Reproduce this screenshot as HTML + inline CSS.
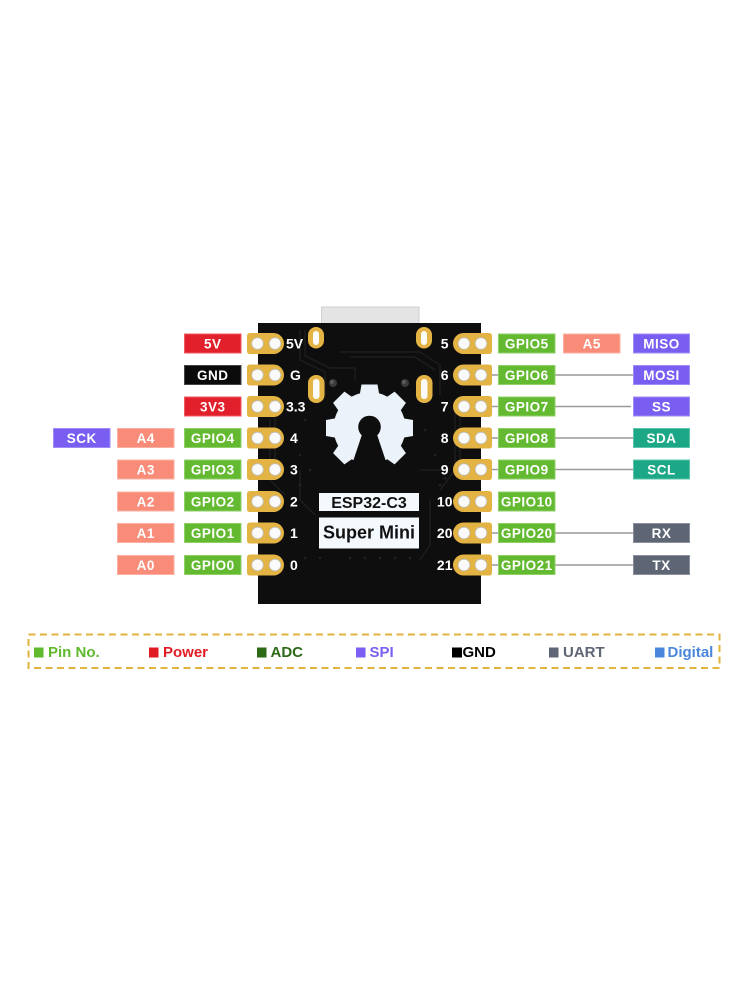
<!DOCTYPE html>
<html><head><meta charset="utf-8"><style>
html,body{margin:0;padding:0;background:#fff;}
svg{display:block;}
text{font-family:"Liberation Sans",sans-serif;font-weight:bold;}
</style></head><body>
<svg width="750" height="1000" viewBox="0 0 750 1000" xmlns="http://www.w3.org/2000/svg">
<rect width="750" height="1000" fill="#fff"/>
<!-- USB -->
<rect x="321.5" y="307" width="97.5" height="17" fill="#e4e4e4" stroke="#cfcfcf" stroke-width="1"/>
<!-- board -->
<rect x="258" y="323" width="223" height="281" fill="#0e0e0e"/>
<g stroke="#1d1d1d" stroke-width="1.5" fill="none">
<polyline points="300,330 300,360 325,372 325,395"/>
<polyline points="305,330 305,356 330,368 355,368 355,380"/>
<polyline points="340,352 420,352 440,365 440,395"/>
<polyline points="350,357 415,357 435,370"/>
<polyline points="270,420 270,480 285,495"/>
<polyline points="275,418 275,470"/>
<polyline points="455,410 455,470 440,490"/>
<polyline points="460,415 460,465"/>
<polyline points="300,470 300,500 315,515"/>
<polyline points="430,500 430,545 420,560"/>
<polyline points="420,470 450,470"/>
</g>
<g fill="#222">
<circle cx="300" cy="455" r="1.3"/><circle cx="310" cy="470" r="1.3"/><circle cx="300" cy="485" r="1.3"/>
<circle cx="435" cy="455" r="1.3"/><circle cx="445" cy="478" r="1.3"/><circle cx="440" cy="485" r="1.3"/>
<circle cx="305" cy="558" r="1.3"/><circle cx="320" cy="558" r="1.3"/><circle cx="350" cy="558" r="1.3"/><circle cx="365" cy="558" r="1.3"/><circle cx="380" cy="558" r="1.3"/><circle cx="395" cy="558" r="1.3"/><circle cx="410" cy="558" r="1.3"/>
<circle cx="305" cy="420" r="1.3"/><circle cx="425" cy="430" r="1.3"/>
</g>
<!-- oval pads -->
<g>
<rect x="308" y="327" width="16" height="21.5" rx="8" fill="#e3b444"/>
<rect x="313" y="331" width="6" height="14" rx="3" fill="#fbfbfb"/>
<rect x="416" y="327" width="16" height="21.5" rx="8" fill="#e3b444"/>
<rect x="421" y="331" width="6" height="14" rx="3" fill="#fbfbfb"/>
<rect x="308" y="375" width="16.5" height="28" rx="8" fill="#e3b444"/>
<rect x="313" y="379" width="6.5" height="20" rx="3.2" fill="#fbfbfb"/>
<rect x="416" y="375" width="16.5" height="28" rx="8" fill="#e3b444"/>
<rect x="421" y="379" width="6.5" height="20" rx="3.2" fill="#fbfbfb"/>
</g>
<circle cx="333" cy="383" r="4" fill="#3a3a3a"/><circle cx="332" cy="382" r="2" fill="#5a5a5a"/>
<circle cx="405" cy="383" r="4" fill="#3a3a3a"/><circle cx="404" cy="382" r="2" fill="#5a5a5a"/>
<!-- gear -->
<g transform="translate(369.5,428)" fill="#ebf2fa">
<circle r="36"/>
<polygon points="-8,-43.5 8,-43.5 10,-32 -10,-32"/>
<polygon points="-8,-43.5 8,-43.5 10,-32 -10,-32" transform="rotate(45)"/>
<polygon points="-8,-43.5 8,-43.5 10,-32 -10,-32" transform="rotate(90)"/>
<polygon points="-8,-43.5 8,-43.5 10,-32 -10,-32" transform="rotate(135)"/>
<polygon points="-8,-43.5 8,-43.5 10,-32 -10,-32" transform="rotate(225)"/>
<polygon points="-8,-43.5 8,-43.5 10,-32 -10,-32" transform="rotate(270)"/>
<polygon points="-8,-43.5 8,-43.5 10,-32 -10,-32" transform="rotate(315)"/>
</g>
<circle cx="369.5" cy="427" r="11.3" fill="#0e0e0e"/>
<polygon points="362.5,433 376.5,433 387.5,466 351.5,466" fill="#0e0e0e"/>
<!-- chip labels -->
<rect x="319" y="493" width="100" height="18" fill="#f4f9fd"/>
<text x="369" y="508" font-size="16" text-anchor="middle" fill="#111">ESP32-C3</text>
<rect x="319" y="517.5" width="100" height="31" fill="#f4f9fd"/>
<text x="369" y="538.5" font-size="18" text-anchor="middle" fill="#111">Super Mini</text>

<!-- connector lines -->
<g stroke="#9a9a9a" stroke-width="1.5">
<line x1="490" y1="375" x2="635" y2="375"/>
<line x1="490" y1="406.5" x2="631" y2="406.5"/>
<line x1="490" y1="438" x2="635" y2="438"/>
<line x1="490" y1="469.5" x2="635" y2="469.5"/>
<line x1="490" y1="533" x2="635" y2="533"/>
<line x1="490" y1="565" x2="635" y2="565"/>
</g>

<!-- left pads -->
<g fill="#e3b444">
<path d="M250 333H273.5A10.5 10.5 0 0 1 273.5 354H250Q247 354 247 351V336Q247 333 250 333Z"/>
<path d="M250 364.5H273.5A10.5 10.5 0 0 1 273.5 385.5H250Q247 385.5 247 382.5V367.5Q247 364.5 250 364.5Z"/>
<path d="M250 396H273.5A10.5 10.5 0 0 1 273.5 417H250Q247 417 247 414V399Q247 396 250 396Z"/>
<path d="M250 427.5H273.5A10.5 10.5 0 0 1 273.5 448.5H250Q247 448.5 247 445.5V430.5Q247 427.5 250 427.5Z"/>
<path d="M250 459H273.5A10.5 10.5 0 0 1 273.5 480H250Q247 480 247 477V462Q247 459 250 459Z"/>
<path d="M250 491H273.5A10.5 10.5 0 0 1 273.5 512H250Q247 512 247 509V494Q247 491 250 491Z"/>
<path d="M250 522.5H273.5A10.5 10.5 0 0 1 273.5 543.5H250Q247 543.5 247 540.5V525.5Q247 522.5 250 522.5Z"/>
<path d="M250 554.5H273.5A10.5 10.5 0 0 1 273.5 575.5H250Q247 575.5 247 572.5V557.5Q247 554.5 250 554.5Z"/>
</g>
<!-- right pads -->
<g fill="#e3b444">
<path d="M489 333H463.5A10.5 10.5 0 0 0 463.5 354H489Q492 354 492 351V336Q492 333 489 333Z"/>
<path d="M489 364.5H463.5A10.5 10.5 0 0 0 463.5 385.5H489Q492 385.5 492 382.5V367.5Q492 364.5 489 364.5Z"/>
<path d="M489 396H463.5A10.5 10.5 0 0 0 463.5 417H489Q492 417 492 414V399Q492 396 489 396Z"/>
<path d="M489 427.5H463.5A10.5 10.5 0 0 0 463.5 448.5H489Q492 448.5 492 445.5V430.5Q492 427.5 489 427.5Z"/>
<path d="M489 459H463.5A10.5 10.5 0 0 0 463.5 480H489Q492 480 492 477V462Q492 459 489 459Z"/>
<path d="M489 491H463.5A10.5 10.5 0 0 0 463.5 512H489Q492 512 492 509V494Q492 491 489 491Z"/>
<path d="M489 522.5H463.5A10.5 10.5 0 0 0 463.5 543.5H489Q492 543.5 492 540.5V525.5Q492 522.5 489 522.5Z"/>
<path d="M489 554.5H463.5A10.5 10.5 0 0 0 463.5 575.5H489Q492 575.5 492 572.5V557.5Q492 554.5 489 554.5Z"/>
</g>
<!-- pad holes -->
<g fill="#fafafa" stroke="#bdbdbd" stroke-width="0.8">
<circle cx="257.5" cy="343.5" r="5.8"/><circle cx="275" cy="343.5" r="5.8"/>
<circle cx="257.5" cy="375" r="5.8"/><circle cx="275" cy="375" r="5.8"/>
<circle cx="257.5" cy="406.5" r="5.8"/><circle cx="275" cy="406.5" r="5.8"/>
<circle cx="257.5" cy="438" r="5.8"/><circle cx="275" cy="438" r="5.8"/>
<circle cx="257.5" cy="469.5" r="5.8"/><circle cx="275" cy="469.5" r="5.8"/>
<circle cx="257.5" cy="501.5" r="5.8"/><circle cx="275" cy="501.5" r="5.8"/>
<circle cx="257.5" cy="533" r="5.8"/><circle cx="275" cy="533" r="5.8"/>
<circle cx="257.5" cy="565" r="5.8"/><circle cx="275" cy="565" r="5.8"/>
<circle cx="464" cy="343.5" r="5.8"/><circle cx="481" cy="343.5" r="5.8"/>
<circle cx="464" cy="375" r="5.8"/><circle cx="481" cy="375" r="5.8"/>
<circle cx="464" cy="406.5" r="5.8"/><circle cx="481" cy="406.5" r="5.8"/>
<circle cx="464" cy="438" r="5.8"/><circle cx="481" cy="438" r="5.8"/>
<circle cx="464" cy="469.5" r="5.8"/><circle cx="481" cy="469.5" r="5.8"/>
<circle cx="464" cy="501.5" r="5.8"/><circle cx="481" cy="501.5" r="5.8"/>
<circle cx="464" cy="533" r="5.8"/><circle cx="481" cy="533" r="5.8"/>
<circle cx="464" cy="565" r="5.8"/><circle cx="481" cy="565" r="5.8"/>
</g>
<!-- pin numbers -->
<g fill="#fff" font-size="14">
<text x="286" y="348.5">5V</text>
<text x="290" y="380">G</text>
<text x="286" y="411.5">3.3</text>
<text x="290" y="443">4</text>
<text x="290" y="474.5">3</text>
<text x="290" y="506.5">2</text>
<text x="290" y="538">1</text>
<text x="290" y="570">0</text>
<text x="448.5" y="348.5" text-anchor="end">5</text>
<text x="448.5" y="380" text-anchor="end">6</text>
<text x="448.5" y="411.5" text-anchor="end">7</text>
<text x="448.5" y="443" text-anchor="end">8</text>
<text x="448.5" y="474.5" text-anchor="end">9</text>
<text x="452.5" y="506.5" text-anchor="end">10</text>
<text x="452.5" y="538" text-anchor="end">20</text>
<text x="452.5" y="570" text-anchor="end">21</text>
</g>

<!-- labels -->
<g stroke-width="1">
<rect x="184.5" y="334" width="56.5" height="19" fill="#e2202b" stroke="#ee5a60"/>
<rect x="184.5" y="365.5" width="56.5" height="19" fill="#0a0a0a" stroke="#444"/>
<rect x="184.5" y="397" width="56.5" height="19" fill="#e2202b" stroke="#ee5a60"/>
<rect x="184.5" y="428.5" width="56.5" height="19" fill="#63b92f" stroke="#8fd068"/>
<rect x="184.5" y="460" width="56.5" height="19" fill="#63b92f" stroke="#8fd068"/>
<rect x="184.5" y="492" width="56.5" height="19" fill="#63b92f" stroke="#8fd068"/>
<rect x="184.5" y="523.5" width="56.5" height="19" fill="#63b92f" stroke="#8fd068"/>
<rect x="184.5" y="555.5" width="56.5" height="19" fill="#63b92f" stroke="#8fd068"/>
<rect x="117.5" y="428.5" width="56.5" height="19" fill="#f98c79" stroke="#fbb0a3"/>
<rect x="117.5" y="460" width="56.5" height="19" fill="#f98c79" stroke="#fbb0a3"/>
<rect x="117.5" y="492" width="56.5" height="19" fill="#f98c79" stroke="#fbb0a3"/>
<rect x="117.5" y="523.5" width="56.5" height="19" fill="#f98c79" stroke="#fbb0a3"/>
<rect x="117.5" y="555.5" width="56.5" height="19" fill="#f98c79" stroke="#fbb0a3"/>
<rect x="53.5" y="428.5" width="56.5" height="19" fill="#7a5ef2" stroke="#a08cf6"/>
<rect x="498.5" y="334" width="56.5" height="19" fill="#63b92f" stroke="#8fd068"/>
<rect x="498.5" y="365.5" width="56.5" height="19" fill="#63b92f" stroke="#8fd068"/>
<rect x="498.5" y="397" width="56.5" height="19" fill="#63b92f" stroke="#8fd068"/>
<rect x="498.5" y="428.5" width="56.5" height="19" fill="#63b92f" stroke="#8fd068"/>
<rect x="498.5" y="460" width="56.5" height="19" fill="#63b92f" stroke="#8fd068"/>
<rect x="498.5" y="492" width="56.5" height="19" fill="#63b92f" stroke="#8fd068"/>
<rect x="498.5" y="523.5" width="56.5" height="19" fill="#63b92f" stroke="#8fd068"/>
<rect x="498.5" y="555.5" width="56.5" height="19" fill="#63b92f" stroke="#8fd068"/>
<rect x="563.5" y="334" width="56.5" height="19" fill="#f98c79" stroke="#fbb0a3"/>
<rect x="633.5" y="334" width="56" height="19" fill="#7a5ef2" stroke="#a08cf6"/>
<rect x="633.5" y="365.5" width="56" height="19" fill="#7a5ef2" stroke="#a08cf6"/>
<rect x="633.5" y="397" width="56" height="19" fill="#7a5ef2" stroke="#a08cf6"/>
<rect x="633.5" y="428.5" width="56" height="19" fill="#1ca886" stroke="#5cc4aa"/>
<rect x="633.5" y="460" width="56" height="19" fill="#1ca886" stroke="#5cc4aa"/>
<rect x="633.5" y="523.5" width="56" height="19" fill="#5e6675" stroke="#8a909c"/>
<rect x="633.5" y="555.5" width="56" height="19" fill="#5e6675" stroke="#8a909c"/>
</g>
<g fill="#fff" font-size="13.5" text-anchor="middle" letter-spacing="0.5">
<text x="212.75" y="348.5">5V</text>
<text x="212.75" y="380">GND</text>
<text x="212.75" y="411.5">3V3</text>
<text x="212.75" y="443">GPIO4</text>
<text x="212.75" y="474.5">GPIO3</text>
<text x="212.75" y="506.5">GPIO2</text>
<text x="212.75" y="538">GPIO1</text>
<text x="212.75" y="570">GPIO0</text>
<text x="145.75" y="443">A4</text>
<text x="145.75" y="474.5">A3</text>
<text x="145.75" y="506.5">A2</text>
<text x="145.75" y="538">A1</text>
<text x="145.75" y="570">A0</text>
<text x="81.75" y="443">SCK</text>
<text x="526.75" y="348.5">GPIO5</text>
<text x="526.75" y="380">GPIO6</text>
<text x="526.75" y="411.5">GPIO7</text>
<text x="526.75" y="443">GPIO8</text>
<text x="526.75" y="474.5">GPIO9</text>
<text x="526.75" y="506.5">GPIO10</text>
<text x="526.75" y="538">GPIO20</text>
<text x="526.75" y="570">GPIO21</text>
<text x="591.75" y="348.5">A5</text>
<text x="661.5" y="348.5">MISO</text>
<text x="661.5" y="380">MOSI</text>
<text x="661.5" y="411.5">SS</text>
<text x="661.5" y="443">SDA</text>
<text x="661.5" y="474.5">SCL</text>
<text x="661.5" y="538">RX</text>
<text x="661.5" y="570">TX</text>
</g>

<!-- legend -->
<rect x="28.5" y="634.5" width="691" height="33.5" fill="none" stroke="#e2b33e" stroke-width="2" stroke-dasharray="7,4.5"/>
<g font-size="15">
<rect x="34" y="647.5" width="9.5" height="10" fill="#5fb92c"/>
<text x="48" y="657" fill="#5fb92c">Pin No.</text>
<rect x="149" y="647.5" width="9.5" height="10" fill="#e01b24"/>
<text x="163" y="657" fill="#e01b24">Power</text>
<rect x="257" y="647.5" width="9.5" height="10" fill="#2d6a18"/>
<text x="270.5" y="657" fill="#2d6a18">ADC</text>
<rect x="356" y="647.5" width="9.5" height="10" fill="#7b5ef2"/>
<text x="369.5" y="657" fill="#7b5ef2">SPI</text>
<rect x="452" y="647.5" width="10" height="10" fill="#000"/>
<text x="462.5" y="657" fill="#000">GND</text>
<rect x="549" y="647.5" width="9.5" height="10" fill="#5e6675"/>
<text x="563" y="657" fill="#5e6675">UART</text>
<rect x="655" y="647.5" width="9.5" height="10" fill="#4a87dc"/>
<text x="667.5" y="657" fill="#4a87dc">Digital</text>
</g>
</svg>
</body></html>
